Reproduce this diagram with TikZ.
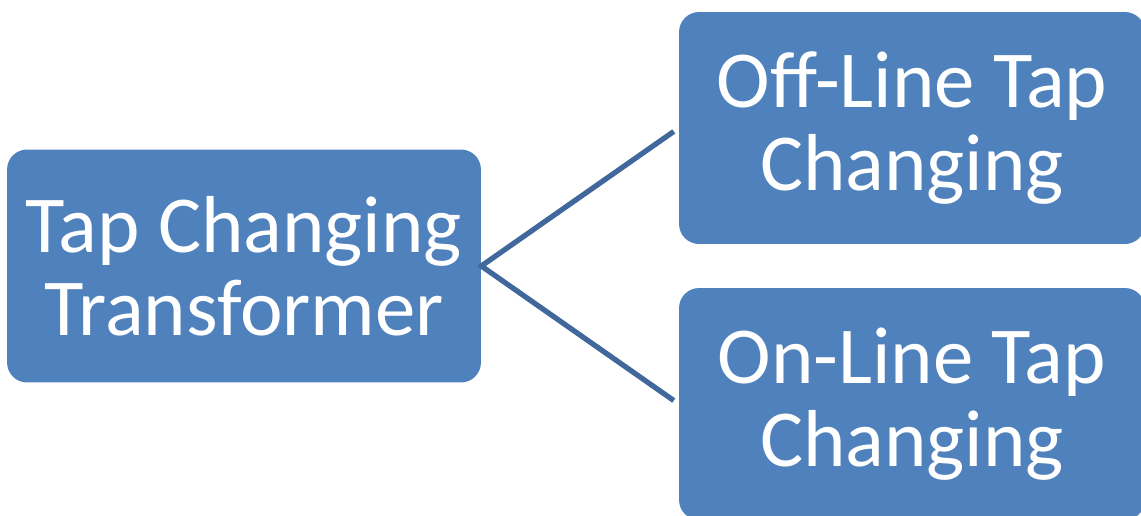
\documentclass[tikz,border=0pt]{standalone}
\usepackage{fontspec}
\setmainfont{Carlito}
\definecolor{BoxClr}{HTML}{4F81BD}
\definecolor{LinkClr}{HTML}{41689C}
\tikzset{
  tapbox/.style={fill=BoxClr, rounded corners=0.4cm, text=white, align=center,
    font=\fontsize{46}{47}\selectfont, inner sep=0pt},
  link/.style={draw=LinkClr, line width=3pt}
}

\begin{document}
\begin{tikzpicture}[x=0.02cm,y=-0.02cm]
\useasboundingbox (0,0) rectangle (1141,515);

\node[tapbox, minimum width=9.48cm, minimum height=4.66cm] (tct) at (244,266)
  {Tap Changing\\Transformer};
\node[tapbox, minimum width=9.32cm, minimum height=4.64cm] (off) at (912,128)
  {Off-Line Tap\\Changing};
\node[tapbox, minimum width=9.32cm, minimum height=4.64cm] (on) at (912,404)
  {On-Line Tap\\Changing};

\draw[link, shorten <=-0.04cm, shorten >=0.12cm] (tct.east) -- (off.west);
\draw[link, shorten <=-0.04cm, shorten >=0.12cm] (tct.east) -- (on.west);

\end{tikzpicture}
\end{document}
